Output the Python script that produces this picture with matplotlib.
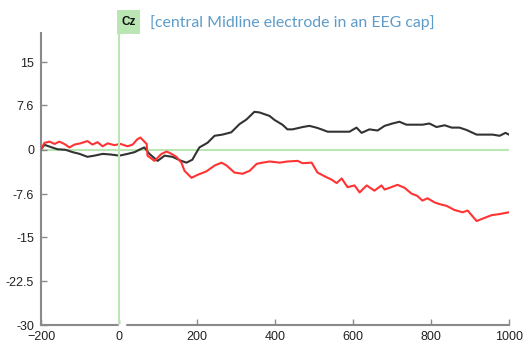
import matplotlib
matplotlib.use("Agg")
import matplotlib.pyplot as plt
from matplotlib.patches import Rectangle

# time (ms) and amplitude readings for the two waveforms at Cz
black_t = [-200, -191, -176, -158, -137, -119, -101, -81, -63, -42,
           -22, 1, 22, 40, 55, 65, 78, 99, 117, 137,
           160, 173, 188, 206, 227, 245, 265, 288, 309, 327,
           347, 360, 386, 399, 419, 432, 445, 471, 488, 506,
           519, 535, 558, 591, 609, 622, 642, 663, 681, 701,
           719, 737, 778, 796, 814, 835, 853, 873, 891, 917,
           932, 958, 976, 991, 1000]
black_v = [0.1, 0.85, 0.5, 0.1, 0.0, -0.4, -0.7, -1.2, -1.0, -0.7,
           -0.8, -1.0, -0.7, -0.4, 0.1, 0.4, -0.7, -1.9, -1.0, -1.2,
           -1.9, -2.2, -1.7, 0.4, 1.2, 2.4, 2.6, 3.0, 4.4, 5.2,
           6.5, 6.4, 5.8, 5.1, 4.3, 3.5, 3.5, 3.9, 4.1, 3.8,
           3.5, 3.1, 3.1, 3.1, 3.8, 2.9, 3.5, 3.3, 4.1, 4.5,
           4.8, 4.3, 4.3, 4.5, 3.9, 4.2, 3.8, 3.8, 3.4, 2.6,
           2.6, 2.6, 2.4, 2.9, 2.6]

red_t = [-200, -191, -178, -165, -153, -140, -127, -114, -99, -81,
         -68, -55, -42, -29, -12, 4, 22, 35, 47, 55,
         65, 71, 73, 91, 109, 122, 135, 147, 160, 168,
         186, 201, 224, 245, 263, 276, 296, 317, 335, 353,
         368, 386, 412, 432, 458, 471, 494, 509, 532, 545,
         558, 571, 586, 604, 617, 635, 655, 673, 681, 694,
         714, 732, 750, 765, 778, 791, 809, 822, 840, 860,
         881, 894, 917, 932, 955, 976, 1000]
red_v = [0.1, 1.2, 1.4, 1.0, 1.4, 1.0, 0.4, 0.9, 1.1, 1.5,
         0.9, 1.3, 0.6, 1.1, 0.8, 1.0, 0.6, 0.9, 1.8, 2.1,
         1.4, 1.0, -1.0, -1.9, -0.7, -0.3, -0.7, -1.2, -2.2, -3.6,
         -4.8, -4.3, -3.7, -2.7, -2.2, -2.7, -3.9, -4.1, -3.6, -2.4,
         -2.2, -2.0, -2.2, -2.0, -1.9, -2.3, -2.2, -3.9, -4.7, -5.1,
         -5.7, -4.9, -6.4, -6.1, -7.3, -6.1, -7.0, -6.1, -6.8, -6.5,
         -6.0, -6.5, -7.5, -7.9, -8.7, -8.3, -9.0, -9.3, -9.6, -10.3,
         -10.7, -10.4, -12.2, -11.8, -11.2, -11.0, -10.7]

yticks = [15, 7.6, 0, -7.6, -15, -22.5, -30]
ytick_labels = ["15", "7.6", "0", "-7.6", "-15", "-22.5", "-30"]
xticks = [-200, 0, 200, 400, 600, 800, 1000]

W, H = 531, 346
fig = plt.figure(figsize=(W / 100, H / 100), dpi=100)
ax = fig.add_axes([41 / W, 1 - 325 / H, 468 / W, 292 / H])

green = "#b9e6b3"
ax.axhline(0, color=green, lw=1.5, zorder=1)
ax.axvline(0, color=green, lw=1.5, zorder=5)

ax.plot(black_t, black_v, color="#333333", lw=1.5, zorder=3)
ax.plot(red_t, red_v, color="#ff3333", lw=1.5, zorder=3)

ax.set_xlim(-200, 1000)
ax.set_ylim(-30, 20)
ax.set_xticks(xticks)
ax.set_yticks(yticks)
ax.set_yticklabels(ytick_labels)

for s in ["top", "right"]:
    ax.spines[s].set_visible(False)
for s in ["left", "bottom"]:
    ax.spines[s].set_color("#8a8a8a")
    ax.spines[s].set_linewidth(1.5)

ax.tick_params(direction="in", length=4, width=1, color="#8a8a8a",
               labelsize=9, labelcolor="#222222")
ax.tick_params(axis="y", pad=5)
ax.tick_params(axis="x", pad=4)
for lab in ax.get_xticklabels() + ax.get_yticklabels():
    lab.set_family(["Liberation Sans", "DejaVu Sans"])

# small gap in the bottom axis just right of time zero
ax.plot([3, 14], [-30, -30], color="white", lw=2.5, clip_on=False, zorder=4)

# electrode label box and caption
fig.patches.append(Rectangle((117 / W, 1 - 34 / H), 23 / W, 24 / H,
                             transform=fig.transFigure, fc=green, ec="none"))
fig.text(128.5 / W, 1 - 22 / H, "Cz", ha="center", va="center", fontsize=8.5,
         fontweight="bold", color="#111111", family=["Liberation Sans", "DejaVu Sans"])
fig.text(150 / W, 1 - 23 / H, "[central Midline electrode in an EEG cap]",
         ha="left", va="center", fontsize=11.4, color="#5d9cc8", family=["Lato", "DejaVu Sans"])

fig.savefig("out.png", dpi=100)
